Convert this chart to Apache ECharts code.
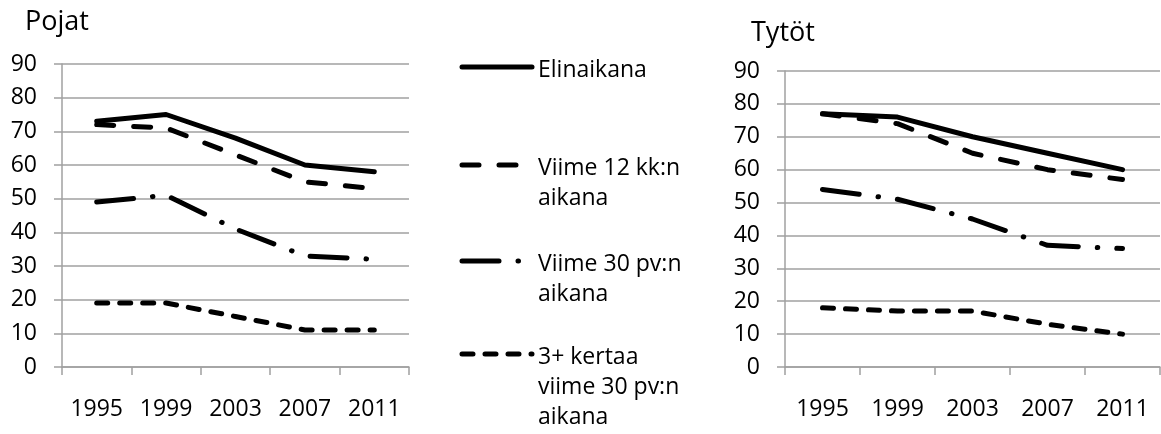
<!DOCTYPE html>
<html><head><meta charset="utf-8">
<script src="https://cdn.jsdelivr.net/npm/echarts@6/dist/echarts.min.js"></script>
<style>html,body{margin:0;padding:0;background:#fff}#c{width:1161px;height:434px}</style>
</head><body><div id="c"></div>
<script>
// ---- data ----
const years = ['1995', '1999', '2003', '2007', '2011'];
const yTicks = [0, 10, 20, 30, 40, 50, 60, 70, 80, 90];
const panelTitles = ['Pojat', 'Tytöt'];
const seriesNames = ['Elinaikana', 'Viime 12 kk:n aikana', 'Viime 30 pv:n aikana', '3+ kertaa viime 30 pv:n aikana'];
const legendLabels = [['Elinaikana'], ['Viime 12 kk:n', 'aikana'], ['Viime 30 pv:n', 'aikana'], ['3+ kertaa', 'viime 30 pv:n', 'aikana']];

const pojatElinaikana = [73, 75, 68, 60, 58];
const pojatViime12kk = [72, 71, 63, 55, 53];
const pojatViime30pv = [49, 51, 41, 33, 32];
const pojat3plus = [19, 19, 15, 11, 11];

const tytotElinaikana = [77, 76, 70, 65, 60];
const tytotViime12kk = [77, 74, 65, 60, 57];
const tytotViime30pv = [54, 51, 45, 37, 36];
const tytot3plus = [18, 17, 17, 13, 10];

// ---- styles ----
const FONT = '"Open Sans", "Noto Sans", sans-serif';
const FS = 23;
const LW = 5;
const dashes = ['solid', [17, 20], [37, 19, 0.5, 19], [11, 12]];
const gridColor = '#a0a0a0';

const panelData = [
  [pojatElinaikana, pojatViime12kk, pojatViime30pv, pojat3plus],
  [tytotElinaikana, tytotViime12kk, tytotViime30pv, tytot3plus]
];
const grids = [
  { left: 62, top: 64, width: 347, height: 303 },
  { left: 785, top: 71, width: 375, height: 296 }
];
const titlePos = [[25, 22], [751, 33]];

const chart = echarts.init(document.getElementById('c'), null, { renderer: 'canvas' });

const xAxes = grids.map((g, i) => ({
  type: 'category', gridIndex: i, data: years, boundaryGap: true,
  axisLine: { show: true, lineStyle: { color: gridColor, width: 1.5 } },
  axisTick: { show: true, length: 8, lineStyle: { color: gridColor, width: 1.5 } },
  axisLabel: { color: '#000', fontFamily: FONT, fontSize: FS, margin: 31 },
  splitLine: { show: false }
}));
const yAxes = grids.map((g, i) => ({
  type: 'value', gridIndex: i, min: yTicks[0], max: yTicks[yTicks.length - 1], interval: yTicks[1] - yTicks[0],
  axisLine: { show: true, lineStyle: { color: gridColor, width: 1.5 } },
  axisTick: { show: true, length: 8, lineStyle: { color: gridColor, width: 1.5 } },
  axisLabel: { color: '#000', fontFamily: FONT, fontSize: FS, margin: 25 },
  splitLine: { show: true, lineStyle: { color: gridColor, width: 1.5 } }
}));

const series = [];
panelData.forEach((panel, p) => {
  panel.forEach((vals, s) => {
    series.push({
      type: 'line', name: seriesNames[s], xAxisIndex: p, yAxisIndex: p,
      data: vals, symbol: 'none', silent: true, animation: false,
      lineStyle: { color: '#000', width: LW, type: dashes[s], cap: 'round', join: 'round' }
    });
  });
});

const graphic = [];
panelTitles.forEach((t, i) => {
  graphic.push({
    type: 'text', x: titlePos[i][0], y: titlePos[i][1],
    style: { text: t, fill: '#000', font: '27px ' + FONT, verticalAlign: 'middle' }
  });
});
// legend as graphics
const legendIconY = [67, 165, 261, 354];
seriesNames.forEach((n, i) => {
  const y = legendIconY[i];
  graphic.push({
    type: 'line', shape: { x1: 462, y1: y, x2: 532, y2: y },
    style: { stroke: '#000', lineWidth: LW, lineDash: dashes[i] === 'solid' ? null : dashes[i], lineCap: 'round' }
  });
  legendLabels[i].forEach((t, k) => {
    graphic.push({
      type: 'text', x: 538, y: y + 3 + k * 30,
      style: { text: t, fill: '#000', font: FS + 'px ' + FONT, verticalAlign: 'middle' }
    });
  });
});

chart.setOption({
  animation: false,
  backgroundColor: '#fff',
  grid: grids,
  xAxis: xAxes,
  yAxis: yAxes,
  series: series,
  graphic: graphic
});
</script>
</body></html>
